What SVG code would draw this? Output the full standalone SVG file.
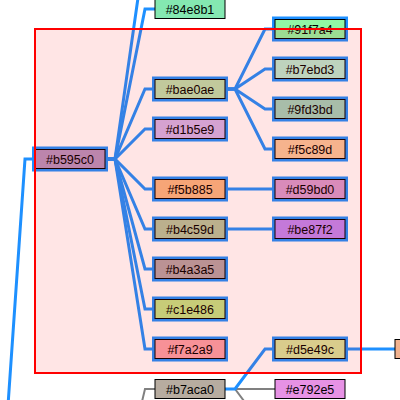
<svg xmlns="http://www.w3.org/2000/svg" width="400" height="400" viewBox="0 0 400 400">
<style>
.n rect.b{stroke:#000;stroke-width:1}
.n rect.h{fill:#1e90ff}
.n text{font-family:"Liberation Sans",Arial,sans-serif;font-size:12.5px;fill:#000;text-anchor:middle}
.c path{fill:none;stroke-linejoin:miter}
.hl{stroke:#1e90ff;stroke-width:3}
.gl{stroke:#808080;stroke-width:2}
</style>
<rect width="400" height="400" fill="#fff"/>
<g class="c" id="connectors">
<path class="hl" d="M-5,594 L25,159 L35,159"/>
<path class="hl" d="M105,159 L115,159 L145,-51 L155,-51"/>
<path class="hl" d="M105,159 L115,159 L145,9 L155,9"/>
<path class="hl" d="M105,159 L115,159 L145,89 L155,89"/>
<path class="hl" d="M105,159 L115,159 L145,129 L155,129"/>
<path class="hl" d="M105,159 L115,159 L145,189 L155,189"/>
<path class="hl" d="M105,159 L115,159 L145,229 L155,229"/>
<path class="hl" d="M105,159 L115,159 L145,269 L155,269"/>
<path class="hl" d="M105,159 L115,159 L145,309 L155,309"/>
<path class="hl" d="M105,159 L115,159 L145,349 L155,349"/>
<path class="hl" d="M225,89 L235,89 L265,29 L275,29"/>
<path class="hl" d="M225,89 L235,89 L265,69 L275,69"/>
<path class="hl" d="M225,89 L235,89 L265,109 L275,109"/>
<path class="hl" d="M225,89 L235,89 L265,149 L275,149"/>
<path class="hl" d="M225,189 L275,189"/>
<path class="hl" d="M225,229 L275,229"/>
<path class="gl" d="M115,515 L145,389 L155,389"/>
<path class="gl" d="M225,389 L235,389 L265,389 L275,389"/>
<path class="gl" d="M225,389 L235,389 L265,429 L275,429"/>
<path class="hl" d="M225,389 L235,389 L265,349 L275,349"/>
<path class="hl" d="M345,349 L395,349"/>
</g>
<g class="n" id="n-b595c0"><rect class="h" x="32" y="146.5" width="76" height="25"/><rect class="b" x="35" y="149.5" width="70" height="19" fill="#b595c0"/><text x="70" y="163.5">#b595c0</text></g>
<g class="n" id="n-84e8b1"><rect class="b" x="155" y="-0.5" width="70" height="19" fill="#84e8b1"/><text x="190" y="13.5">#84e8b1</text></g>
<g class="n" id="n-bae0ae"><rect class="h" x="152" y="76.5" width="76" height="25"/><rect class="b" x="155" y="79.5" width="70" height="19" fill="#bae0ae"/><text x="190" y="93.5">#bae0ae</text></g>
<g class="n" id="n-d1b5e9"><rect class="h" x="152" y="116.5" width="76" height="25"/><rect class="b" x="155" y="119.5" width="70" height="19" fill="#d1b5e9"/><text x="190" y="133.5">#d1b5e9</text></g>
<g class="n" id="n-f5b885"><rect class="h" x="152" y="176.5" width="76" height="25"/><rect class="b" x="155" y="179.5" width="70" height="19" fill="#f5b885"/><text x="190" y="193.5">#f5b885</text></g>
<g class="n" id="n-b4c59d"><rect class="h" x="152" y="216.5" width="76" height="25"/><rect class="b" x="155" y="219.5" width="70" height="19" fill="#b4c59d"/><text x="190" y="233.5">#b4c59d</text></g>
<g class="n" id="n-b4a3a5"><rect class="h" x="152" y="256.5" width="76" height="25"/><rect class="b" x="155" y="259.5" width="70" height="19" fill="#b4a3a5"/><text x="190" y="273.5">#b4a3a5</text></g>
<g class="n" id="n-c1e486"><rect class="h" x="152" y="296.5" width="76" height="25"/><rect class="b" x="155" y="299.5" width="70" height="19" fill="#c1e486"/><text x="190" y="313.5">#c1e486</text></g>
<g class="n" id="n-f7a2a9"><rect class="h" x="152" y="336.5" width="76" height="25"/><rect class="b" x="155" y="339.5" width="70" height="19" fill="#f7a2a9"/><text x="190" y="353.5">#f7a2a9</text></g>
<g class="n" id="n-b7aca0"><rect class="b" x="155" y="379.5" width="70" height="19" fill="#b7aca0"/><text x="190" y="393.5">#b7aca0</text></g>
<g class="n" id="n-91f7a4"><rect class="h" x="272" y="16.5" width="76" height="25"/><rect class="b" x="275" y="19.5" width="70" height="19" fill="#91f7a4"/><text x="310" y="33.5">#91f7a4</text></g>
<g class="n" id="n-b7ebd3"><rect class="h" x="272" y="56.5" width="76" height="25"/><rect class="b" x="275" y="59.5" width="70" height="19" fill="#b7ebd3"/><text x="310" y="73.5">#b7ebd3</text></g>
<g class="n" id="n-9fd3bd"><rect class="h" x="272" y="96.5" width="76" height="25"/><rect class="b" x="275" y="99.5" width="70" height="19" fill="#9fd3bd"/><text x="310" y="113.5">#9fd3bd</text></g>
<g class="n" id="n-f5c89d"><rect class="h" x="272" y="136.5" width="76" height="25"/><rect class="b" x="275" y="139.5" width="70" height="19" fill="#f5c89d"/><text x="310" y="153.5">#f5c89d</text></g>
<g class="n" id="n-d59bd0"><rect class="h" x="272" y="176.5" width="76" height="25"/><rect class="b" x="275" y="179.5" width="70" height="19" fill="#d59bd0"/><text x="310" y="193.5">#d59bd0</text></g>
<g class="n" id="n-be87f2"><rect class="h" x="272" y="216.5" width="76" height="25"/><rect class="b" x="275" y="219.5" width="70" height="19" fill="#be87f2"/><text x="310" y="233.5">#be87f2</text></g>
<g class="n" id="n-d5e49c"><rect class="h" x="272" y="336.5" width="76" height="25"/><rect class="b" x="275" y="339.5" width="70" height="19" fill="#d5e49c"/><text x="310" y="353.5">#d5e49c</text></g>
<g class="n" id="n-e792e5"><rect class="b" x="275" y="379.5" width="70" height="19" fill="#e792e5"/><text x="310" y="393.5">#e792e5</text></g>
<g class="n" id="n-partial"><rect class="b" x="395" y="339.5" width="70" height="19" fill="#f2b28f"/></g>
<rect id="region" x="35" y="29" width="326" height="344" fill="#ff0000" fill-opacity="0.1" stroke="#ff0000" stroke-width="2"/>
</svg>
